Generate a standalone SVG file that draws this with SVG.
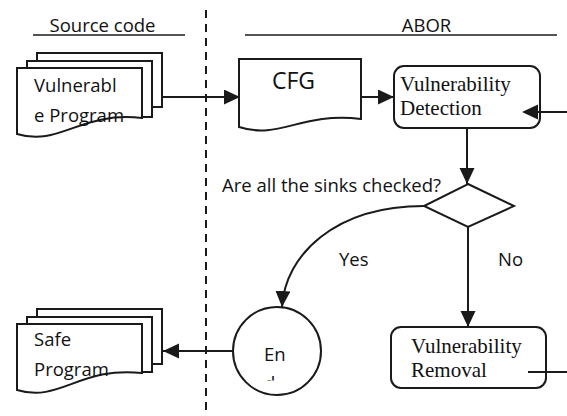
<svg xmlns="http://www.w3.org/2000/svg" width="567" height="416" viewBox="0 0 567 416">
  <style>
    .sans { font-family: "Open Sans", "Liberation Sans", sans-serif; font-size: 18.5px; fill: #111; }
    .serif { font-family: "Liberation Serif", "Times New Roman", serif; font-size: 21px; fill: #111; }
    .shape { fill: #fff; stroke: #1a1a1a; stroke-width: 2; }
    .edge { fill: none; stroke: #1a1a1a; stroke-width: 2; }
    .head { fill: #1a1a1a; stroke: none; }
    .rule { fill: none; stroke: #1a1a1a; stroke-width: 1.6; }
  </style>
  <defs>
    <marker id="arrow" markerUnits="userSpaceOnUse" markerWidth="17" markerHeight="16" refX="16" refY="7.5" orient="auto">
      <path d="M0,0 L16,7.5 L0,15 Z" fill="#1a1a1a"/>
    </marker>
    <clipPath id="endClip">
      <rect x="240" y="300" width="80" height="80.5"/>
    </clipPath>
  </defs>

  <rect width="567" height="416" fill="#fff"/>

  <!-- lane headers and divider -->
  <g id="lanes">
    <text class="sans" x="102.5" y="32" text-anchor="middle">Source code</text>
    <line class="rule" x1="33" y1="35" x2="185" y2="35"/>
    <text class="sans" x="426.5" y="32" text-anchor="middle">ABOR</text>
    <line class="rule" x1="245" y1="35" x2="557" y2="35"/>
    <line x1="206" y1="10" x2="206" y2="416" stroke="#1a1a1a" stroke-width="2" stroke-dasharray="8 6"/>
  </g>

  <!-- vulnerable program (document stack) -->
  <g id="vulnerable-program">
    <path class="shape" d="M37,61 V53 H162 V107 H152"/>
    <path class="shape" d="M27,68 V61 H152 V117 H142"/>
    <path class="shape" d="M17,134 V68 H142 V118 C80,111 60,147 17,134 Z"/>
    <text class="sans" x="34" y="92">Vulnerabl</text>
    <text class="sans" x="34" y="122">e Program</text>
  </g>

  <!-- control flow graph (document) -->
  <g id="cfg">
    <path class="shape" d="M239,127 V59 H361 V119 C300,112 280,140 239,127 Z"/>
    <text class="sans" x="272" y="89" style="font-size:23px">CFG</text>
  </g>

  <!-- vulnerability detection -->
  <g id="detection">
    <rect class="shape" x="394" y="66" width="146" height="62" rx="10"/>
    <text class="serif" x="400" y="91">Vulnerability</text>
    <text class="serif" x="400" y="115">Detection</text>
  </g>

  <!-- decision -->
  <g id="decision">
    <polygon class="shape" points="468,184 514,206 468,227 424,206"/>
    <text class="sans" x="222" y="192">Are all the sinks checked?</text>
  </g>

  <!-- vulnerability removal -->
  <g id="removal">
    <rect class="shape" x="391" y="327" width="155" height="61" rx="10"/>
    <text class="serif" x="411" y="353">Vulnerability</text>
    <text class="serif" x="411" y="377">Removal</text>
  </g>

  <!-- end terminal -->
  <g id="end">
    <circle class="shape" cx="277" cy="351" r="44"/>
    <g clip-path="url(#endClip)">
      <text class="sans" x="264" y="361">En</text>
      <text class="sans" x="264" y="390">d</text>
    </g>
  </g>

  <!-- safe program (document stack) -->
  <g id="safe-program">
    <path class="shape" d="M37,317 V309 H162 V364 H152"/>
    <path class="shape" d="M27,324 V317 H152 V372 H142"/>
    <path class="shape" d="M17,390 V324 H142 V373 C80,366 60,403 17,390 Z"/>
    <text class="sans" x="34" y="346">Safe</text>
    <text class="sans" x="34" y="376">Program</text>
  </g>

  <!-- connectors, drawn last so the loop-back arrow shows over the boxes -->
  <g id="connectors">
    <path class="edge" d="M162,97 H240" marker-end="url(#arrow)"/>
    <path class="edge" d="M361,97 H394" marker-end="url(#arrow)"/>
    <path class="edge" d="M567,112 H524"/>
    <polygon class="head" points="522,112 538,104.5 538,119.5"/>
    <path class="edge" d="M467,128 V184" marker-end="url(#arrow)"/>
    <path class="edge" d="M468,227 V327" marker-end="url(#arrow)"/>
    <path class="edge" d="M424,206 C335,206 285,255 282,307" marker-end="url(#arrow)"/>
    <path class="edge" d="M233,351 H163" marker-end="url(#arrow)"/>
    <path class="edge" d="M528,372 H567"/>
    <text class="sans" x="339" y="266">Yes</text>
    <text class="sans" x="498" y="266">No</text>
  </g>
</svg>
